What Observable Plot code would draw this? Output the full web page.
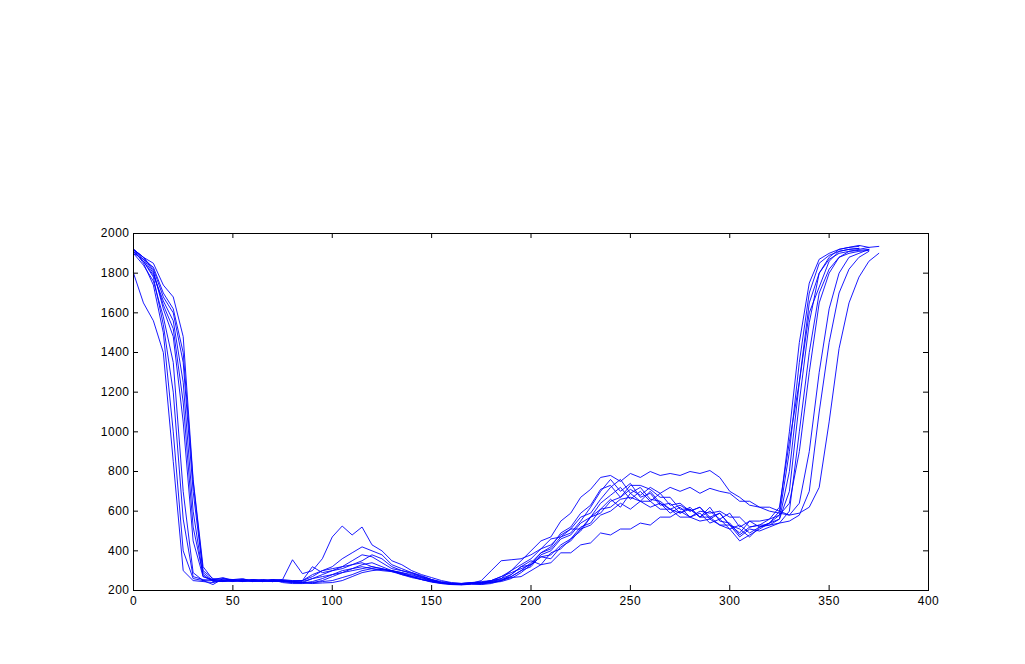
<!DOCTYPE html>
<html>
<head>
<meta charset="utf-8">
<script src="https://cdn.jsdelivr.net/npm/d3@7"></script>
<script src="https://cdn.jsdelivr.net/npm/@observablehq/plot@0.6"></script>
<style>
  html, body { margin: 0; padding: 0; background: #fff; overflow: hidden; }
</style>
</head>
<body>
<div id="vis"></div>
<script>
// samples every 5 units along x, starting at 0
const step = 5
const xTicks = [0, 50, 100, 150, 200, 250, 300, 350, 400]
const yTicks = [200, 400, 600, 800, 1000, 1200, 1400, 1600, 1800, 2000]

const sA = [1800,1650,1560,1400,850,300,250,245, 240,250,245,255,250,245,250,245,
  240,238,245,260,280,290,300,310, 320,310,300,290,275,265,250,240,
  232,230,235,232,240,245,260,290, 330,370,360,420,450,510,530,580,
  600,640,610,650,620,640,590,620, 570,590,540,560,510,530,490,520,
  530,560,800,1250,1650,1800,1870,1900, 1910,1915,1920]
const sB = [1920,1850,1740,1500,1000,400,260,250, 255,265,250,245,255,250,245,250,
  245,250,320,290,300,310,330,350, 380,360,320,300,290,275,255,240,
  235,232,238,236,242,250,280,320, 350,330,390,410,460,500,570,610,
  660,620,690,650,700,640,610,590, 620,570,600,560,590,520,550,520,
  540,580,900,1350,1700,1850,1890,1910, 1920,1925]
const sC = [1910,1860,1780,1540,1200,560,270,255, 250,245,255,260,245,250,255,240,
  235,235,240,250,270,290,310,330, 340,320,300,280,270,255,245,235,
  230,228,232,230,235,250,270,300, 320,380,400,460,480,540,570,640,
  680,720,660,700,650,690,630,640, 600,620,570,590,530,510,470,520,
  540,600,1000,1450,1750,1870,1900,1920, 1930,1935]
const sD = [1900,1840,1760,1580,1350,700,290,250, 230,260,255,250,245,250,245,255,
  250,245,260,280,300,320,330,340, 320,310,295,285,270,260,248,238,
  232,235,240,245,250,270,300,330, 360,410,430,480,510,570,590,660,
  720,760,690,720,660,650,610,630, 600,620,560,590,530,470,510,500,
  520,540,600,1000,1400,1700,1820,1880, 1900,1910,1915]
const sE = [1920,1880,1810,1620,1480,1050,450,270, 250,245,250,255,250,245,255,255,
  355,285,300,360,470,525,480,520, 430,400,350,330,300,280,265,250,
  240,235,238,240,250,260,280,320, 330,390,410,470,490,550,620,700,
  760,700,740,670,690,630,640,590, 610,570,620,550,540,480,520,530,
  560,620,950,1250,1600,1730,1860,1910, 1920,1925]
const sF = [1920,1870,1800,1640,1520,1150,520,280, 245,250,255,245,250,255,250,245,
  240,240,238,245,250,265,280,300, 310,305,300,285,270,255,242,235,
  232,230,235,240,245,260,300,350, 400,450,470,550,590,670,710,770,
  780,750,790,770,800,780,790,780, 800,790,805,770,700,670,630,620,
  600,590,580,590,620,720,1050,1420, 1650,1780,1860,1900]
const sG = [1910,1860,1790,1660,1560,1250,600,270, 255,260,250,245,255,250,245,250,
  245,250,280,300,310,320,350,380, 370,340,310,300,285,270,255,240,
  235,232,235,238,245,255,270,300, 340,390,420,490,520,590,630,710,
  730,670,710,680,720,690,720,700, 720,690,715,700,690,650,650,620,
  620,600,580,640,900,1300,1620,1800, 1880,1900,1920]
const sH = [1920,1880,1820,1680,1600,1350,700,290, 250,245,255,250,245,255,250,245,
  250,250,270,300,320,360,390,420, 400,380,330,310,290,270,255,245,
  238,236,240,240,250,270,290,310, 330,370,380,430,460,520,540,610,
  620,660,670,650,650,610,610,570, 570,550,560,530,510,450,480,510,
  540,560,700,1150,1550,1800,1880,1920, 1930,1940,1930]
const sI = [1900,1870,1830,1700,1620,1400,750,300, 260,255,250,255,250,245,255,250,
  245,240,260,270,280,300,310,320, 310,300,295,280,265,255,245,238,
  235,232,236,250,300,350,355,360, 380,410,460,470,510,510,570,590,
  650,670,730,730,710,670,670,610, 610,570,570,530,530,490,550,550,
  560,580,640,900,1300,1650,1800,1880, 1910,1920,1930,1935]
const sJ = [1920,1880,1850,1740,1680,1480,760,320, 255,250,245,250,255,250,245,250,
  245,240,235,238,240,250,270,290, 300,305,300,290,280,265,250,238,
  232,230,232,235,240,250,265,270, 300,330,340,390,390,430,440,490,
  480,510,510,540,530,570,570,600, 570,600,590,600,570,570,520,530,
  530,540,550,580,700,1100,1450,1700, 1820,1880,1910]

const series = [sA, sB, sC, sD, sE, sF, sG, sH, sI, sJ]
const rows = series.flatMap((vals, s) => vals.map((y, i) => ({s, x: i * step, y})))

const W = 1025, H = 664
const mTop = 233, mBottom = 74, mLeft = 133, mRight = 97
const tickLen = 5
const innerW = W - mLeft - mRight
const innerH = H - mTop - mBottom

const chart = Plot.plot({
  width: W,
  height: H,
  marginTop: mTop,
  marginBottom: mBottom,
  marginLeft: mLeft,
  marginRight: mRight,
  x: {domain: [0, 400], ticks: xTicks, label: null},
  y: {domain: [200, 2000], ticks: yTicks, label: null},
  style: {fontFamily: 'Liberation Sans, Arial, sans-serif', fontSize: '12px', letterSpacing: '0.5px', color: '#000', background: '#fff'},
  marks: [
    Plot.line(rows, {x: 'x', y: 'y', z: 's', stroke: '#0000ff', strokeWidth: 0.9}),
    // inward ticks on all four sides, MATLAB style
    Plot.tickX(xTicks, {x: d => d, insetTop: innerH - tickLen, stroke: '#000'}),
    Plot.tickX(xTicks, {x: d => d, insetBottom: innerH - tickLen, stroke: '#000'}),
    Plot.tickY(yTicks, {y: d => d, insetRight: innerW - tickLen, stroke: '#000'}),
    Plot.tickY(yTicks, {y: d => d, insetLeft: innerW - tickLen, stroke: '#000'}),
    Plot.axisX(xTicks, {tickSize: 0, tickPadding: 6, tickFormat: d3.format('d')}),
    Plot.axisY(yTicks, {tickSize: 0, tickPadding: 4, tickFormat: d3.format('d')}),
    Plot.frame({stroke: '#000'})
  ]
})
d3.select('#vis').append(() => chart)
</script>
</body>
</html>
